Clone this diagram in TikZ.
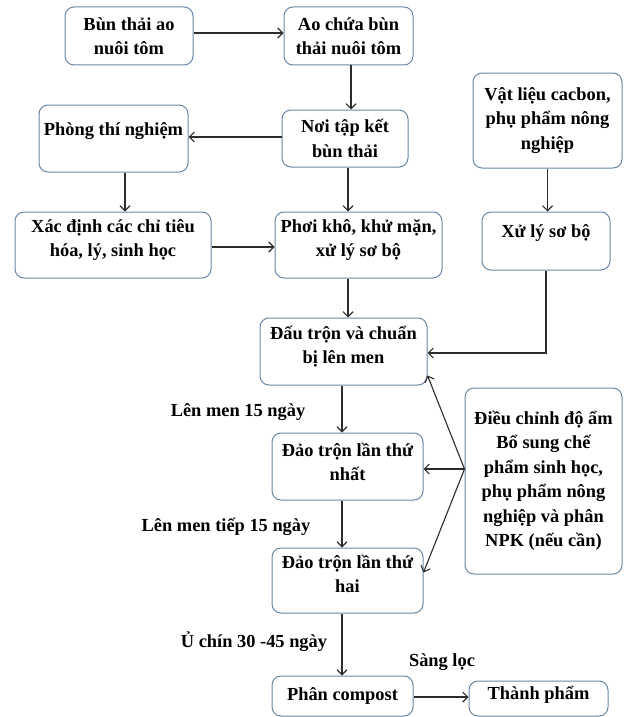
\documentclass[tikz,border=0pt]{standalone}
\usepackage{fontspec}
\setmainfont{Liberation Serif}
\usetikzlibrary{arrows.meta,calc}
\definecolor{boxc}{RGB}{105,135,165}
\definecolor{arrc}{RGB}{45,45,45}
\begin{document}
\begin{tikzpicture}[x=1pt,y=-1pt,
  box/.style={draw=boxc,line width=1pt,rounded corners=9pt,fill=white,
    align=center,inner sep=2pt,font=\fontsize{18.4}{24.5}\selectfont\bfseries},
  arr/.style={draw=arrc,line width=1.1pt,-{Straight Barb[length=5pt,width=10pt,line width=1.1pt]}},
  lbl/.style={font=\fontsize{18.4}{24.5}\selectfont\bfseries,inner sep=0pt}]
\useasboundingbox (0,0) rectangle (626,717);
\node[box,minimum width=128pt,minimum height=58pt] (b1) at (129,36) {Bùn thải ao\\nuôi tôm};
\node[box,minimum width=129pt,minimum height=58pt] (b2) at (348.5,36) {Ao chứa bùn\\thải nuôi tôm};
\node[box,minimum width=126pt,minimum height=57pt] (b3) at (345,138.5) {Nơi tập kết\\bùn thải};
\node[box,minimum width=149pt,minimum height=67pt] (b4) at (113.5,138.5) {};
\node[lbl] at (113.5,131) {Phòng thí nghiệm};
\node[box,minimum width=149pt,minimum height=95pt] (b5) at (547.5,120.5) {Vật liệu cacbon,\\phụ phẩm nông\\nghiệp};
\node[box,minimum width=196pt,minimum height=66pt] (b6) at (113,245) {};
\node[lbl,align=center] at (113,240) {Xác định các chỉ tiêu\\hóa, lý, sinh học};
\node[box,minimum width=167pt,minimum height=66pt] (b7) at (358.5,245) {};
\node[lbl,align=center] at (358.5,240) {Phơi khô, khử mặn,\\xử lý sơ bộ};
\node[box,minimum width=128pt,minimum height=58pt] (b8) at (546,241) {};
\node[lbl] at (546,233) {Xử lý sơ bộ};
\node[box,minimum width=167pt,minimum height=67pt] (b9) at (343.5,351.5) {};
\node[lbl,align=center] at (343.5,346.5) {Đấu trộn và chuẩn\\bị lên men};
\node[box,minimum width=151pt,minimum height=67pt] (b10) at (347.5,466.5) {};
\node[lbl,align=center] at (347.5,462) {Đảo trộn lần thứ\\nhất};
\node[box,minimum width=157pt,minimum height=186pt] (b11) at (543.5,481) {Điều chỉnh độ ẩm\\Bổ sung chế\\phẩm sinh học,\\phụ phẩm nông\\nghiệp và phân\\NPK (nếu cần)};
\node[box,minimum width=151pt,minimum height=65pt] (b12) at (347.5,580.5) {};
\node[lbl,align=center] at (347.5,574) {Đảo trộn lần thứ\\hai};
\node[box,minimum width=141pt,minimum height=40pt] (b13) at (342.5,696) {Phân compost};
\node[box,minimum width=139pt,minimum height=35pt] (b14) at (538.5,698.5) {};
\node[lbl] at (538.5,695) {Thành phẩm};
% labels
\node[lbl] (l1) at (238,412) {Lên men 15 ngày};
\node[lbl] (l2) at (226,527) {Lên men tiếp 15 ngày};
\node[lbl] (l3) at (254,642) {Ủ chín 30 -45 ngày};
\node[lbl] (l4) at (442,662) {Sàng lọc};
% arrows
\draw[arr] ([yshift=3pt]b1.east) -- ([yshift=3pt]b1.east -| b2.west);
\draw[arr] ([xshift=2.5pt]b2.south) -- ([xshift=2.5pt]b2.south |- b3.north);
\draw[arr] ([yshift=1.5pt]b3.west) -- ([yshift=1.5pt]b3.west -| b4.east);
\draw[arr] ([xshift=11.5pt]b4.south) -- ([xshift=11.5pt]b4.south |- b6.north);
\draw[arr] ([yshift=-2pt]b6.east) -- ([yshift=-2pt]b6.east -| b7.west);
\draw[arr] ([xshift=3pt]b3.south) -- ([xshift=3pt]b3.south |- b7.north);
\draw[arr] (b5.south) -- (b5.south |- b8.north);
\draw[arr] ([xshift=-10.5pt]b7.south) -- ([xshift=-10.5pt]b7.south |- b9.north);
\draw[arr] (b8.south) |- ([yshift=-1.5pt]b9.east);
\draw[arr] ([xshift=-1.5pt]b9.south) -- ([xshift=-1.5pt]b9.south |- b10.north);
\draw[arr] ([xshift=-5.5pt]b10.south) -- ([xshift=-5.5pt]b10.south |- b12.north);
\draw[arr] ([xshift=-5.5pt]b12.south) -- ([xshift=-5.5pt]b12.south |- b13.north);
\draw[arr] ([yshift=-1pt]b13.east) -- ([yshift=-1pt]b13.east -| b14.west);
\coordinate (src) at ([yshift=-2.5pt]b11.west |- b10.east);
\draw[arr] (src) -- (src -| b10.east);
\draw[arr] (src) -- ([yshift=10pt]b9.south east);
\draw[arr] (src) -- ([yshift=-25pt]b12.north east);
\end{tikzpicture}
\end{document}
